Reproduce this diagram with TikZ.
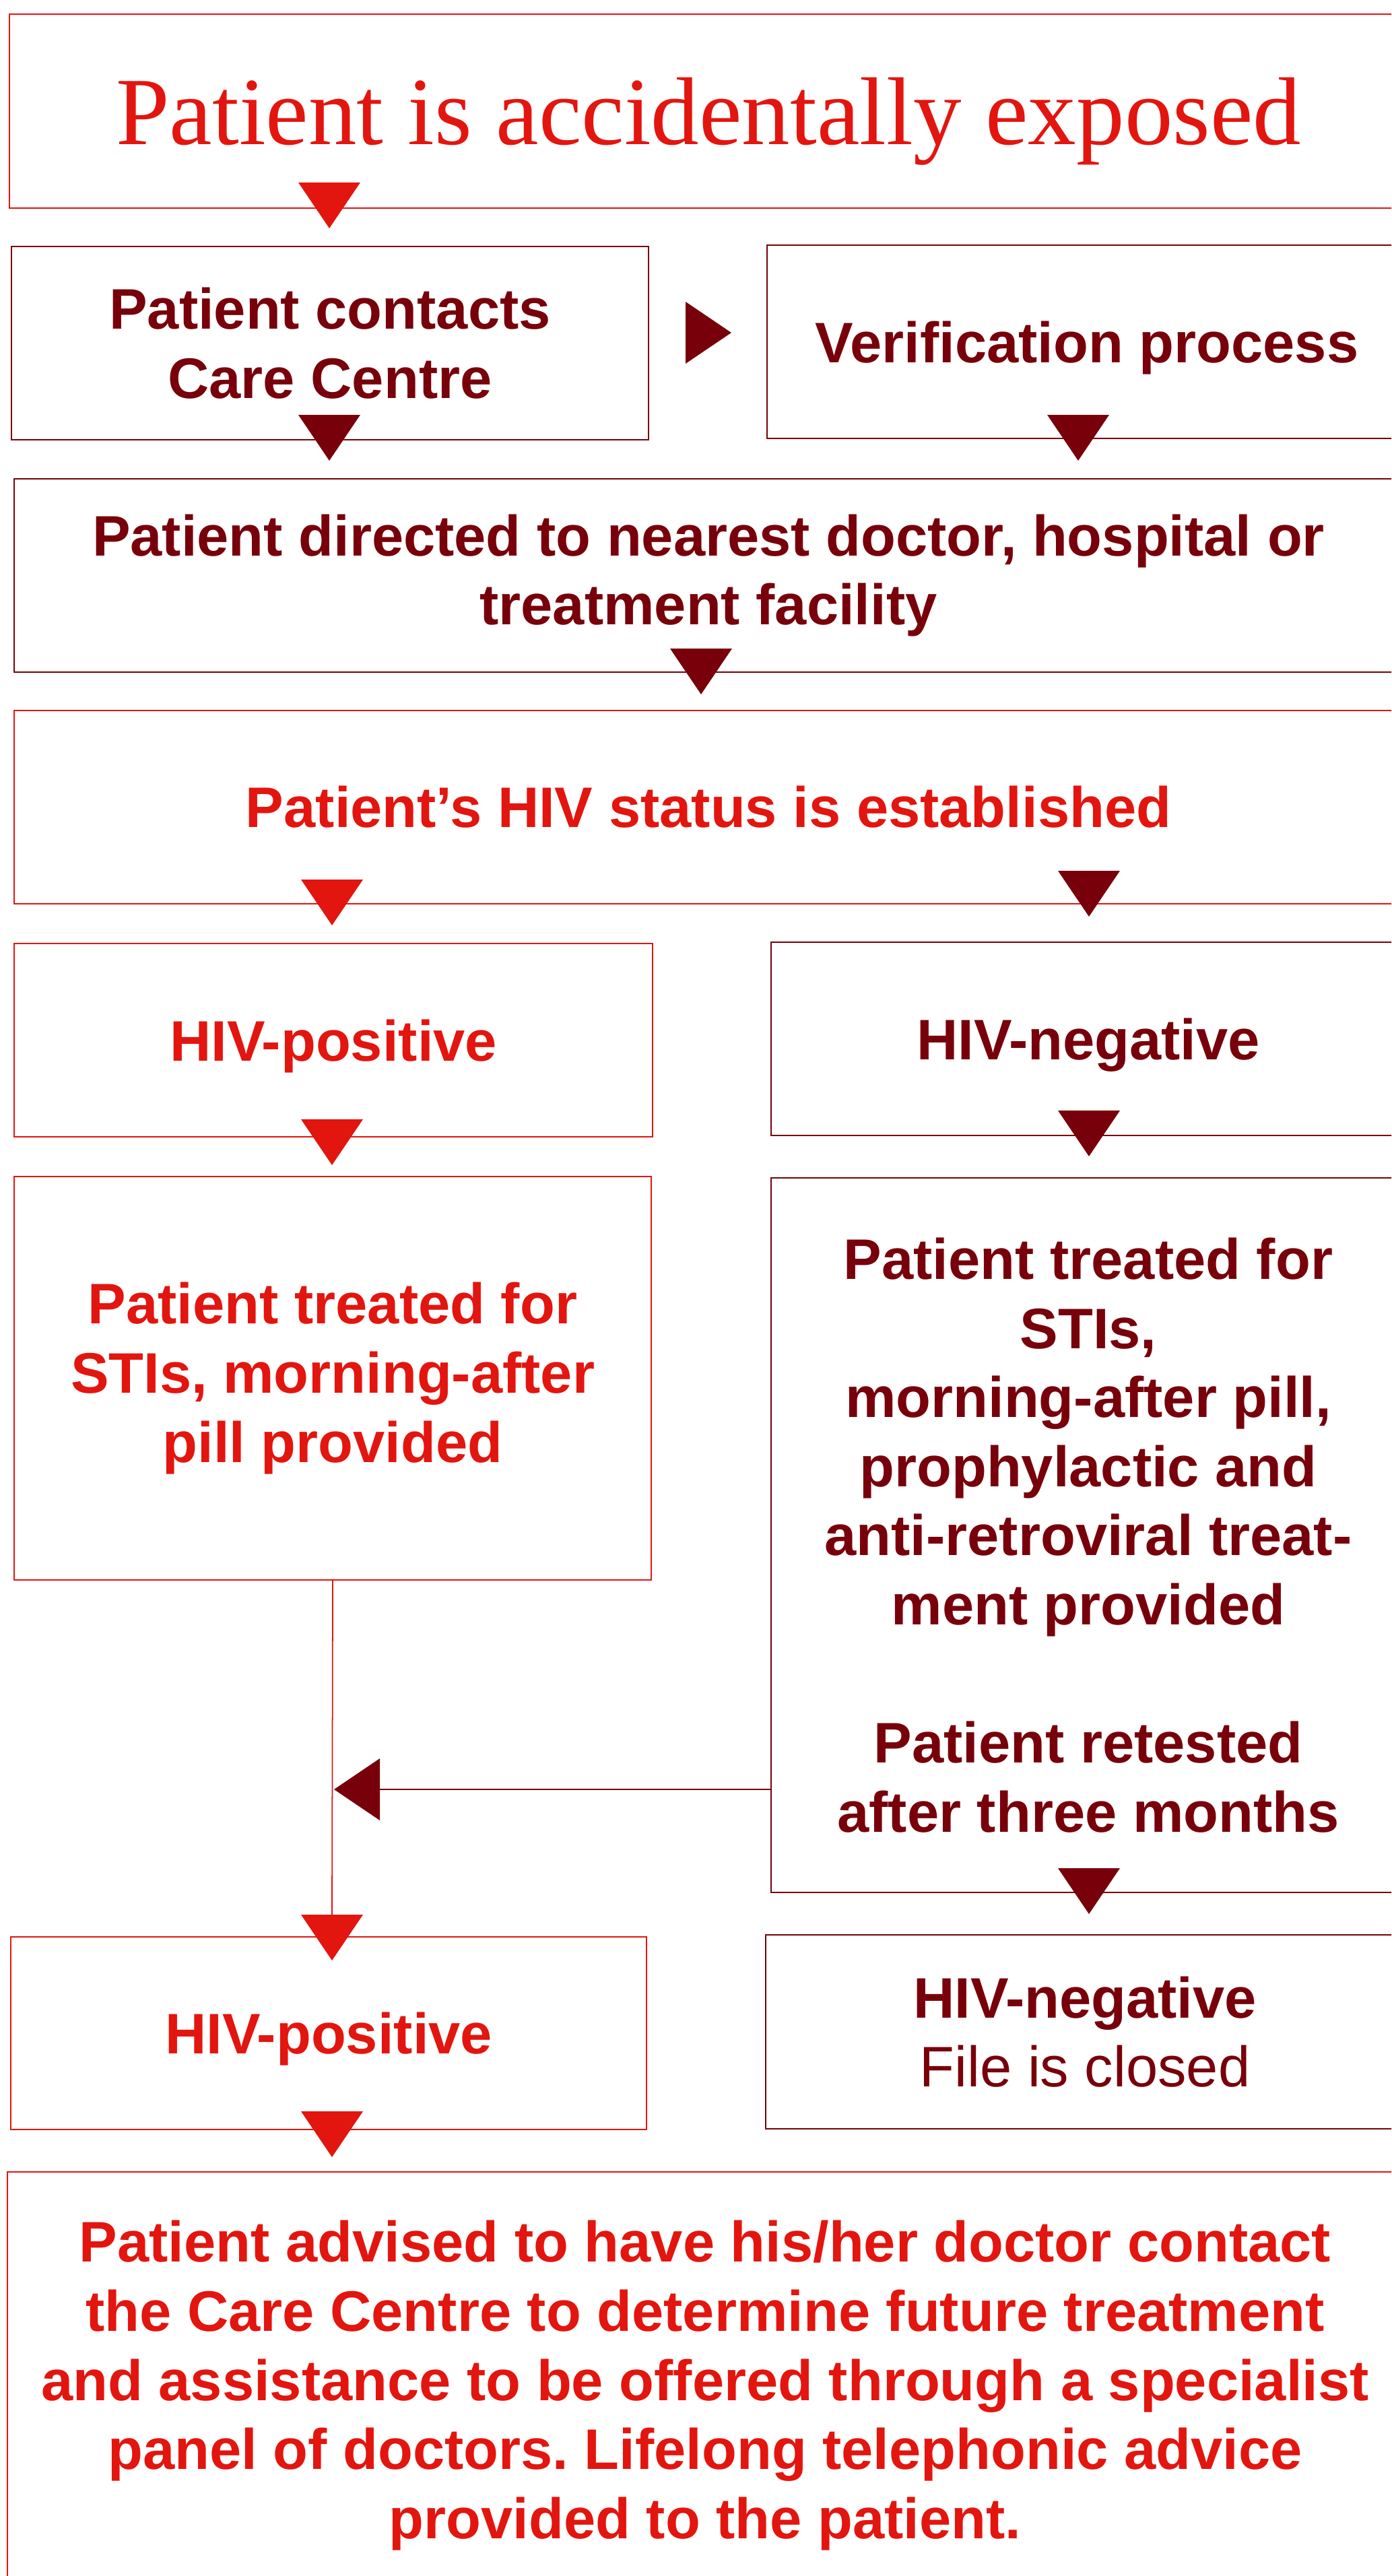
\documentclass[tikz,border=0pt]{standalone}
\usepackage{fontspec}
\setmainfont{Liberation Sans}
\newfontfamily\titlefont{Liberation Serif}
\frenchspacing

\definecolor{hivred}{HTML}{E3150F}
\definecolor{hivdark}{HTML}{78000A}

\tikzset{
    box/.style={draw, rectangle, inner sep=0pt, line width=0.6pt, align=center,
        anchor=north west, font=\fontsize{24.15pt}{29.2pt}\selectfont\bfseries},
    redbox/.style={box, hivred},
    darkbox/.style={box, hivdark},
    flat/.style={text depth=0pt},
    head/.pic={\fill (-0.46,0) -- (0.46,0) -- (0,-0.68) -- cycle;}
}

\begin{document}
\begin{tikzpicture}
        \clip (0,0) rectangle (20.66,-38.25);

        \node[redbox, flat, minimum width=20.76cm, minimum height=2.88cm,
            font=\fontsize{40.7pt}{48pt}\titlefont] (exposed) at (0.13,-0.20)
            {Patient is accidentally exposed};
        \pic[hivred] at (4.89,-2.71) {head};

        % contact and verification
        \node[darkbox, minimum width=9.46cm, minimum height=2.87cm] (contacts) at (0.16,-3.65)
            {Patient contacts\\Care Centre};
        \node[darkbox, flat, minimum width=9.50cm, minimum height=2.87cm] (verify) at (11.38,-3.63)
            {Verification process};
        \pic[hivdark, rotate=90] at (10.18,-4.94) {head};
        \pic[hivdark] at (4.89,-6.16) {head};
        \pic[hivdark] at (16.01,-6.16) {head};

        \node[darkbox, minimum width=20.62cm, minimum height=2.87cm] (directed) at (0.20,-7.10)
            {Patient directed to nearest doctor, hospital or\\treatment facility};
        \pic[hivdark] at (10.41,-9.63) {head};

        \node[redbox, minimum width=20.62cm, minimum height=2.87cm] (status) at (0.20,-10.54)
            {Patient’s HIV status is established};
        \pic[hivred] at (4.93,-13.06) {head};
        \pic[hivdark] at (16.17,-12.93) {head};

        % first test
        \node[redbox, flat, minimum width=9.48cm, minimum height=2.87cm] (positive) at (0.20,-14.00)
            {HIV-positive};
        \node[darkbox, flat, minimum width=9.42cm, minimum height=2.87cm] (negative) at (11.44,-13.98)
            {HIV-negative};
        \pic[hivred] at (4.93,-16.62) {head};
        \pic[hivdark] at (16.17,-16.49) {head};

        \node[redbox, minimum width=9.46cm, minimum height=5.99cm] (treatpos) at (0.20,-17.46)
            {Patient treated for\\STIs, morning-after\\pill provided};
        \node[darkbox, minimum width=9.42cm, minimum height=10.61cm] (treatneg) at (11.44,-17.48)
            {Patient treated for\\STIs,\\morning-after pill,\\prophylactic and\\anti-retroviral treat-\\ment provided\\[29.2pt]
            Patient retested\\after three months};

        % retest turns positive
        \coordinate (back) at (5.64,-26.57);
        \draw[hivdark, line width=0.7pt] (treatneg.west |- back) -- (back);
        \pic[hivdark, rotate=-90] at (back) {head};

        \coordinate (down) at (4.93,-28.43);
        \draw[hivred, line width=0.5pt] (treatpos.south) -- (down);
        \pic[hivred] at (down) {head};
        \pic[hivdark] at (16.17,-27.74) {head};

        % second test
        \node[redbox, flat, minimum width=9.44cm, minimum height=2.86cm] (positive2) at (0.15,-28.75)
            {HIV-positive};
        \node[darkbox, minimum width=9.48cm, minimum height=2.88cm] (closed) at (11.36,-28.72)
            {HIV-negative\\{\mdseries File is closed}};
        \pic[hivred] at (4.93,-31.35) {head};

        \node[redbox, minimum width=20.72cm, minimum height=6.34cm] (advised) at (0.10,-32.24)
            {Patient advised to have his/her doctor contact\\the Care Centre to determine future treatment\\
            and assistance to be offered through a specialist\\panel of doctors. Lifelong telephonic advice\\
            provided to the patient.};
\end{tikzpicture}
\end{document}
